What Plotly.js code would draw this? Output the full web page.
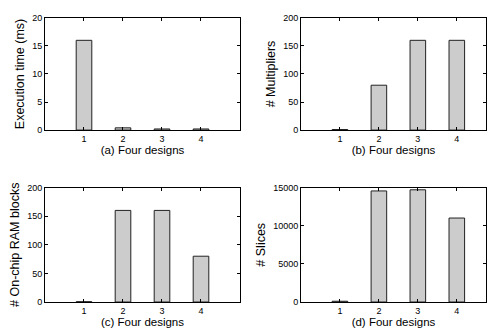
<!DOCTYPE html>
<html><head><meta charset="utf-8">
<script src="https://cdn.plot.ly/plotly-3.0.1.min.js"></script>
<style>html,body{margin:0;padding:0;background:#fff}#chart{width:487px;height:331px}</style>
</head><body><div id="chart"></div>
<script>
const designs = [1, 2, 3, 4];
const execTime = [16, 0.4, 0.2, 0.2];
const multipliers = [1, 80, 160, 160];
const ramBlocks = [0.5, 160, 160, 80];
const slices = [100, 14550, 14700, 11000];
const yTitles = ['Execution time (ms)', '# Multipliers', '# On-chip RAM blocks', '# Slices'];
const xTitles = ['(a) Four designs', '(b) Four designs', '(c) Four designs', '(d) Four designs'];
const yRanges = [[0, 20], [0, 200], [0, 200], [0, 15000]];
const yDtick = [5, 50, 50, 5000];
const series = [execTime, multipliers, ramBlocks, slices];

const font = {family: 'Liberation Sans, Arial, sans-serif', size: 9, color: '#000'};
const xDomains = [[0.0924, 0.4928], [0.618, 0.998], [0.0924, 0.4928], [0.618, 0.998]];
const yDomains = [[0.607, 0.946], [0.607, 0.946], [0.0876, 0.4335], [0.0876, 0.4335]];
const xRanges = [[0, 5], [0, 4.75], [0, 5], [0, 4.75]];

const data = [];
const layout = {
  width: 487, height: 331,
  margin: {l: 0, r: 0, t: 0, b: 0},
  paper_bgcolor: '#fff', plot_bgcolor: '#fff',
  showlegend: false, font: font
};
for (let i = 0; i < 4; i++) {
  const s = i === 0 ? '' : String(i + 1);
  data.push({
    type: 'bar', x: designs, y: series[i], width: 0.4,
    xaxis: 'x' + s, yaxis: 'y' + s,
    marker: {color: '#cccccc', line: {color: '#222', width: 1}},
    hoverinfo: 'none'
  });
  layout['xaxis' + s] = {
    domain: xDomains[i], range: xRanges[i], anchor: 'y' + s,
    tickvals: designs, ticks: 'inside', ticklen: 3, tickcolor: '#000',
    showline: true, linecolor: '#000', linewidth: 1, mirror: 'ticks',
    showgrid: false, zeroline: false, tickfont: font,
    title: {text: xTitles[i], font: {family: font.family, size: 11.5, color: '#000'}, standoff: 2}
  };
  layout['yaxis' + s] = {
    domain: yDomains[i], range: yRanges[i], anchor: 'x' + s,
    dtick: yDtick[i], tickformat: 'd', ticks: 'inside', ticklen: 3, tickcolor: '#000',
    showline: true, linecolor: '#000', linewidth: 1, mirror: 'ticks',
    showgrid: false, zeroline: false, tickfont: font,
    title: {text: yTitles[i], font: {family: font.family, size: 12.5, color: '#000'}, standoff: 4}
  };
}
Plotly.newPlot('chart', data, layout, {displayModeBar: false, staticPlot: true});
</script></body></html>
